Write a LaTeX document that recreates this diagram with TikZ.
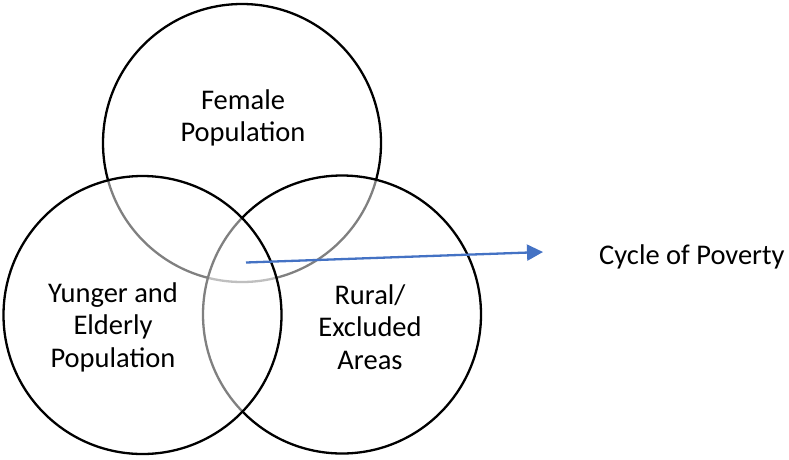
\documentclass[tikz,border=0pt]{standalone}
\usepackage{fontspec}
\setmainfont{Carlito}
\usetikzlibrary{arrows.meta}
\begin{document}
\begin{tikzpicture}[x=1pt,y=-1pt,
  venn/.style={circle,draw=black,line width=2.3pt,fill=white,fill opacity=0.5,minimum size=278pt,inner sep=0pt},
  lbl/.style={align=center,font=\fontsize{28.5}{32.5}\selectfont,text=black,inner sep=0pt},
  arr/.style={draw={rgb,255:red,68;green,114;blue,196},fill={rgb,255:red,68;green,114;blue,196},line width=2.3pt,-{Triangle[length=16pt,width=16pt]}}]
\useasboundingbox (0,0) rectangle (789,459);
\node[venn] (top) at (242,143) {};
\node[venn] (right) at (342,314.5) {};
\node[venn] (left) at (142.5,315) {};
\node[lbl] (tf) at (243,118) {Female\\Population};
\node[lbl] (lf) at (113,327) {Yunger and\\Elderly\\Population};
\node[lbl] (rf) at (370,327) {Rural/\\Excluded\\Areas};
\node[lbl,anchor=west] (cyc) at (599,257) {Cycle of Poverty};
\coordinate (s) at (246,262.5);
\coordinate (e) at (543,252);
\draw[arr] (s) -- (e);
\end{tikzpicture}
\end{document}
